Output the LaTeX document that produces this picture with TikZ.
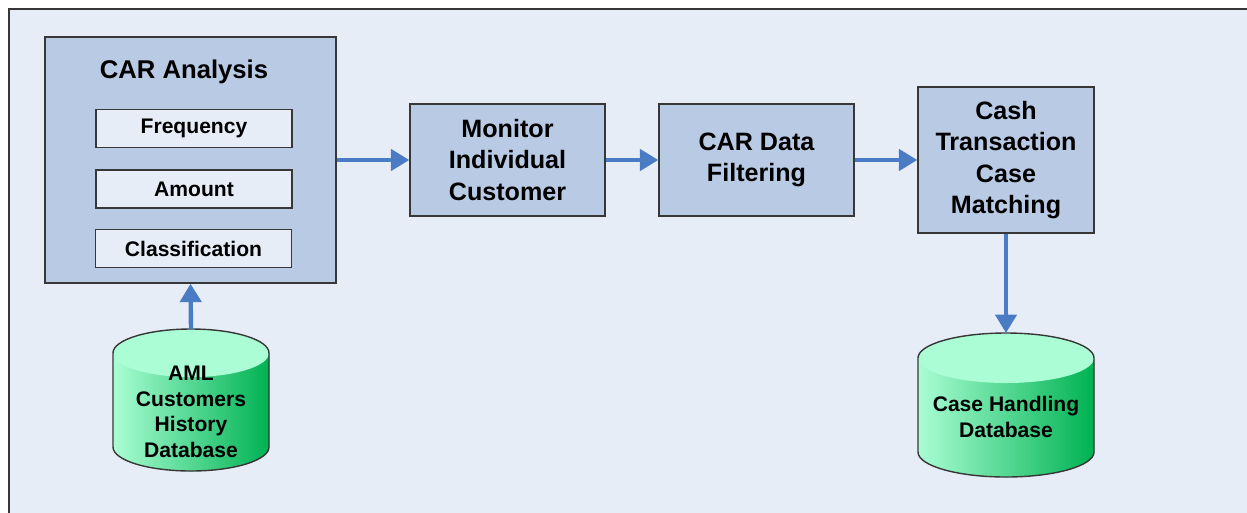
\documentclass[tikz,border=0pt]{standalone}
\usepackage{fontspec}
\setmainfont{Liberation Sans}
\usetikzlibrary{arrows.meta}
\definecolor{pagebg}{RGB}{231,237,247}
\definecolor{boxfill}{RGB}{184,202,228}
\definecolor{flow}{RGB}{73,124,196}
\definecolor{dblight}{RGB}{170,253,212}
\definecolor{dbdark}{RGB}{0,178,82}
\definecolor{edge}{RGB}{55,55,55}
\begin{document}
\begin{tikzpicture}[x=0.02cm,y=0.02cm,
  stage/.style={draw=edge, line width=0.8pt, fill=boxfill, inner sep=0pt,
    align=center, font=\fontsize{14.3}{17.7}\selectfont\bfseries},
  factor/.style={draw=edge, line width=0.6pt, fill=pagebg, inner sep=0pt,
    minimum width=3.92cm, minimum height=0.76cm,
    font=\fontsize{12}{14}\selectfont\bfseries},
  dblabel/.style={align=center, inner sep=0pt,
    font=\fontsize{12}{14.6}\selectfont\bfseries},
  flowarrow/.style={draw=flow, line width=2.5pt,
    -{Triangle[width=12pt,length=10.5pt]}},
  dbbody/.style={left color=dblight, right color=dbdark},
  dbline/.style={draw=edge, line width=0.8pt}]

% page and frame
\useasboundingbox (0,0) rectangle (1247,-512);
\fill[white] (0,0) rectangle (1247,-512);
\draw[draw=edge, line width=0.8pt, fill=pagebg] (9,-9) rectangle (1275,-540);

% CAR analysis block with its three factors
\node[stage, minimum width=5.82cm, minimum height=4.92cm] (car) at (190.5,-160) {};
\node[font=\fontsize{14.6}{17}\selectfont\bfseries] (cartitle) at (184,-72) {CAR Analysis};
\node[factor] (freq) at (194,-128.5) {Frequency};
\node[factor] (amount) at (194,-189) {Amount};
\node[factor] (class) at (193.5,-248.5) {Classification};

% processing stages
\node[stage, minimum width=3.9cm, minimum height=2.24cm] (mon) at (507.5,-160)
  {Monitor\\Individual\\Customer};
\node[stage, minimum width=3.9cm, minimum height=2.24cm] (filter) at (756.5,-160)
  {CAR Data\\Filtering};
\node[stage, minimum width=3.52cm, minimum height=2.92cm] (cash) at (1006,-160)
  {Cash\\Transaction\\Case\\Matching};

% customers history database: shaded body, light lid, outline without the lid's front rim
\fill[dbbody] (113,-353) -- (113,-447)
  arc[start angle=180, end angle=360, x radius=78, y radius=24] -- (269,-353) -- cycle;
\fill[dblight] (191,-353) ellipse[x radius=78, y radius=24];
\draw[dbline] (113,-353) -- (113,-447)
  arc[start angle=180, end angle=360, x radius=78, y radius=24] -- (269,-353)
  arc[start angle=0, end angle=180, x radius=78, y radius=24] -- cycle;
\coordinate (hist) at (191,-329);
\node[dblabel] (histlabel) at (191,-412) {AML\\Customers\\History\\Database};

% case handling database
\fill[dbbody] (918,-358) -- (918,-452)
  arc[start angle=180, end angle=360, x radius=88, y radius=25] -- (1094,-358) -- cycle;
\fill[dblight] (1006,-358) ellipse[x radius=88, y radius=25];
\draw[dbline] (918,-358) -- (918,-452)
  arc[start angle=180, end angle=360, x radius=88, y radius=25] -- (1094,-358)
  arc[start angle=0, end angle=180, x radius=88, y radius=25] -- cycle;
\coordinate (casedb) at (1006,-333);
\node[dblabel] (caselabel) at (1006,-417) {Case Handling\\Database};

% flow
\draw[flowarrow] (hist) -- (car.south);
\draw[flowarrow] (car.east) -- (mon.west);
\draw[flowarrow] (mon.east) -- (filter.west);
\draw[flowarrow] (filter.east) -- (cash.west);
\draw[flowarrow] (cash.south) -- (casedb);
\end{tikzpicture}
\end{document}
